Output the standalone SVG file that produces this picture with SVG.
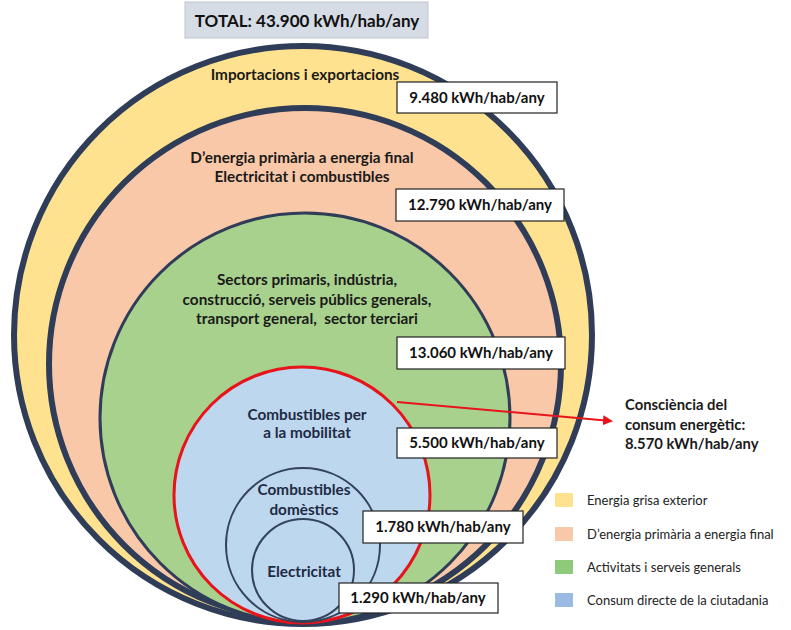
<svg xmlns="http://www.w3.org/2000/svg" width="791" height="630" viewBox="0 0 791 630">
<defs>
<style>
.lbl{font-family:Lato,"Liberation Sans",sans-serif;font-weight:bold;font-size:15.3px;fill:#1a1a1a;text-anchor:middle}
.val{font-family:Lato,"Liberation Sans",sans-serif;font-weight:bold;font-size:15px;fill:#111;text-anchor:middle}
.box{fill:#fff;stroke:#222;stroke-width:1.2}
.ring{stroke:#2f3d58}
.leg{font-family:Lato,"Liberation Sans",sans-serif;font-size:13px;fill:#222}
</style>
<marker id="ah" markerWidth="10" markerHeight="10" refX="8" refY="5" orient="auto" markerUnits="userSpaceOnUse">
<path d="M0,0 L10,5 L0,10 z" fill="#e8141b"/>
</marker>
</defs>
<rect width="791" height="630" fill="#fff"/>

<g id="title">
<rect x="185" y="2" width="243" height="36" fill="#d6dce5" stroke="#bfc6d0" stroke-width="1"/>
<text x="307" y="27" style="font-family:Lato,'Liberation Sans',sans-serif;font-weight:bold;font-size:17px;fill:#111;text-anchor:middle">TOTAL: 43.900 kWh/hab/any</text>
</g>

<g id="outer">
<circle cx="303" cy="335" r="289" fill="#ffe28f" class="ring" stroke-width="6"/>
<text class="lbl" x="305" y="80">Importacions i exportacions</text>
</g>
<g id="primary">
<circle cx="305" cy="364" r="256" fill="#f8c8a8" class="ring" stroke-width="6"/>
<text class="lbl" x="302" y="163">D’energia primària a energia final</text>
<text class="lbl" x="302" y="182">Electricitat i combustibles</text>
</g>
<g id="sectors">
<circle cx="305" cy="418" r="205" fill="#a8d18d" class="ring" stroke-width="3"/>
<text class="lbl" x="307" y="285">Sectors primaris, indústria,</text>
<text class="lbl" x="307" y="305">construcció, serveis públics generals,</text>
<text class="lbl" x="307" y="324">transport general,&#160; sector terciari</text>
</g>
<g id="mobility">
<circle cx="302" cy="495" r="128" fill="#bdd7ee" stroke="#e8141b" stroke-width="3"/>
<text class="lbl" x="307" y="420" style="fill:#1f2a44">Combustibles per</text>
<text class="lbl" x="307" y="438" style="fill:#1f2a44">a la mobilitat</text>
</g>
<g id="domestic">
<circle cx="303" cy="545" r="77" fill="none" stroke="#34435c" stroke-width="2"/>
<text class="lbl" x="304" y="495" style="fill:#1f2a44">Combustibles</text>
<text class="lbl" x="304" y="515" style="fill:#1f2a44">domèstics</text>
</g>
<g id="electricity">
<circle cx="303" cy="570" r="51" fill="none" stroke="#34435c" stroke-width="2"/>
<text class="lbl" x="304" y="577" style="fill:#1f2a44">Electricitat</text>
</g>

<g id="values">
<rect class="box" x="397" y="82" width="160" height="31"/>
<text class="val" x="477" y="103">9.480 kWh/hab/any</text>
<rect class="box" x="396" y="189" width="168" height="32"/>
<text class="val" x="480" y="210">12.790 kWh/hab/any</text>
<rect class="box" x="397" y="337" width="168" height="32"/>
<text class="val" x="481" y="358">13.060 kWh/hab/any</text>
<rect class="box" x="397" y="428" width="160" height="30"/>
<text class="val" x="477" y="448">5.500 kWh/hab/any</text>
<rect class="box" x="363" y="511" width="160" height="32"/>
<text class="val" x="443" y="532">1.780 kWh/hab/any</text>
<rect class="box" x="339" y="583" width="159" height="30"/>
<text class="val" x="418" y="603">1.290 kWh/hab/any</text>
</g>

<g id="connectors">
<line x1="397" y1="402" x2="611" y2="421" stroke="#e8141b" stroke-width="2" marker-end="url(#ah)"/>
</g>

<g id="awareness">
<text class="lbl" style="text-anchor:start;font-size:14.8px" x="625" y="410">Consciència del</text>
<text class="lbl" style="text-anchor:start;font-size:14.8px" x="625" y="430">consum energètic:</text>
<text class="lbl" style="text-anchor:start;font-size:14.8px" x="625" y="449">8.570 kWh/hab/any</text>
</g>

<g id="legend">
<rect x="555" y="493" width="18" height="14" fill="#ffe28f"/>
<text class="leg" x="587" y="505">Energia grisa exterior</text>
<rect x="555" y="527" width="18" height="14" fill="#f8c8a8"/>
<text class="leg" x="587" y="539">D’energia primària a energia final</text>
<rect x="555" y="560" width="18" height="14" fill="#8fca7b"/>
<text class="leg" x="587" y="572">Activitats i serveis generals</text>
<rect x="555" y="593" width="18" height="14" fill="#9bbbe3"/>
<text class="leg" x="587" y="605">Consum directe de la ciutadania</text>
</g>
</svg>
